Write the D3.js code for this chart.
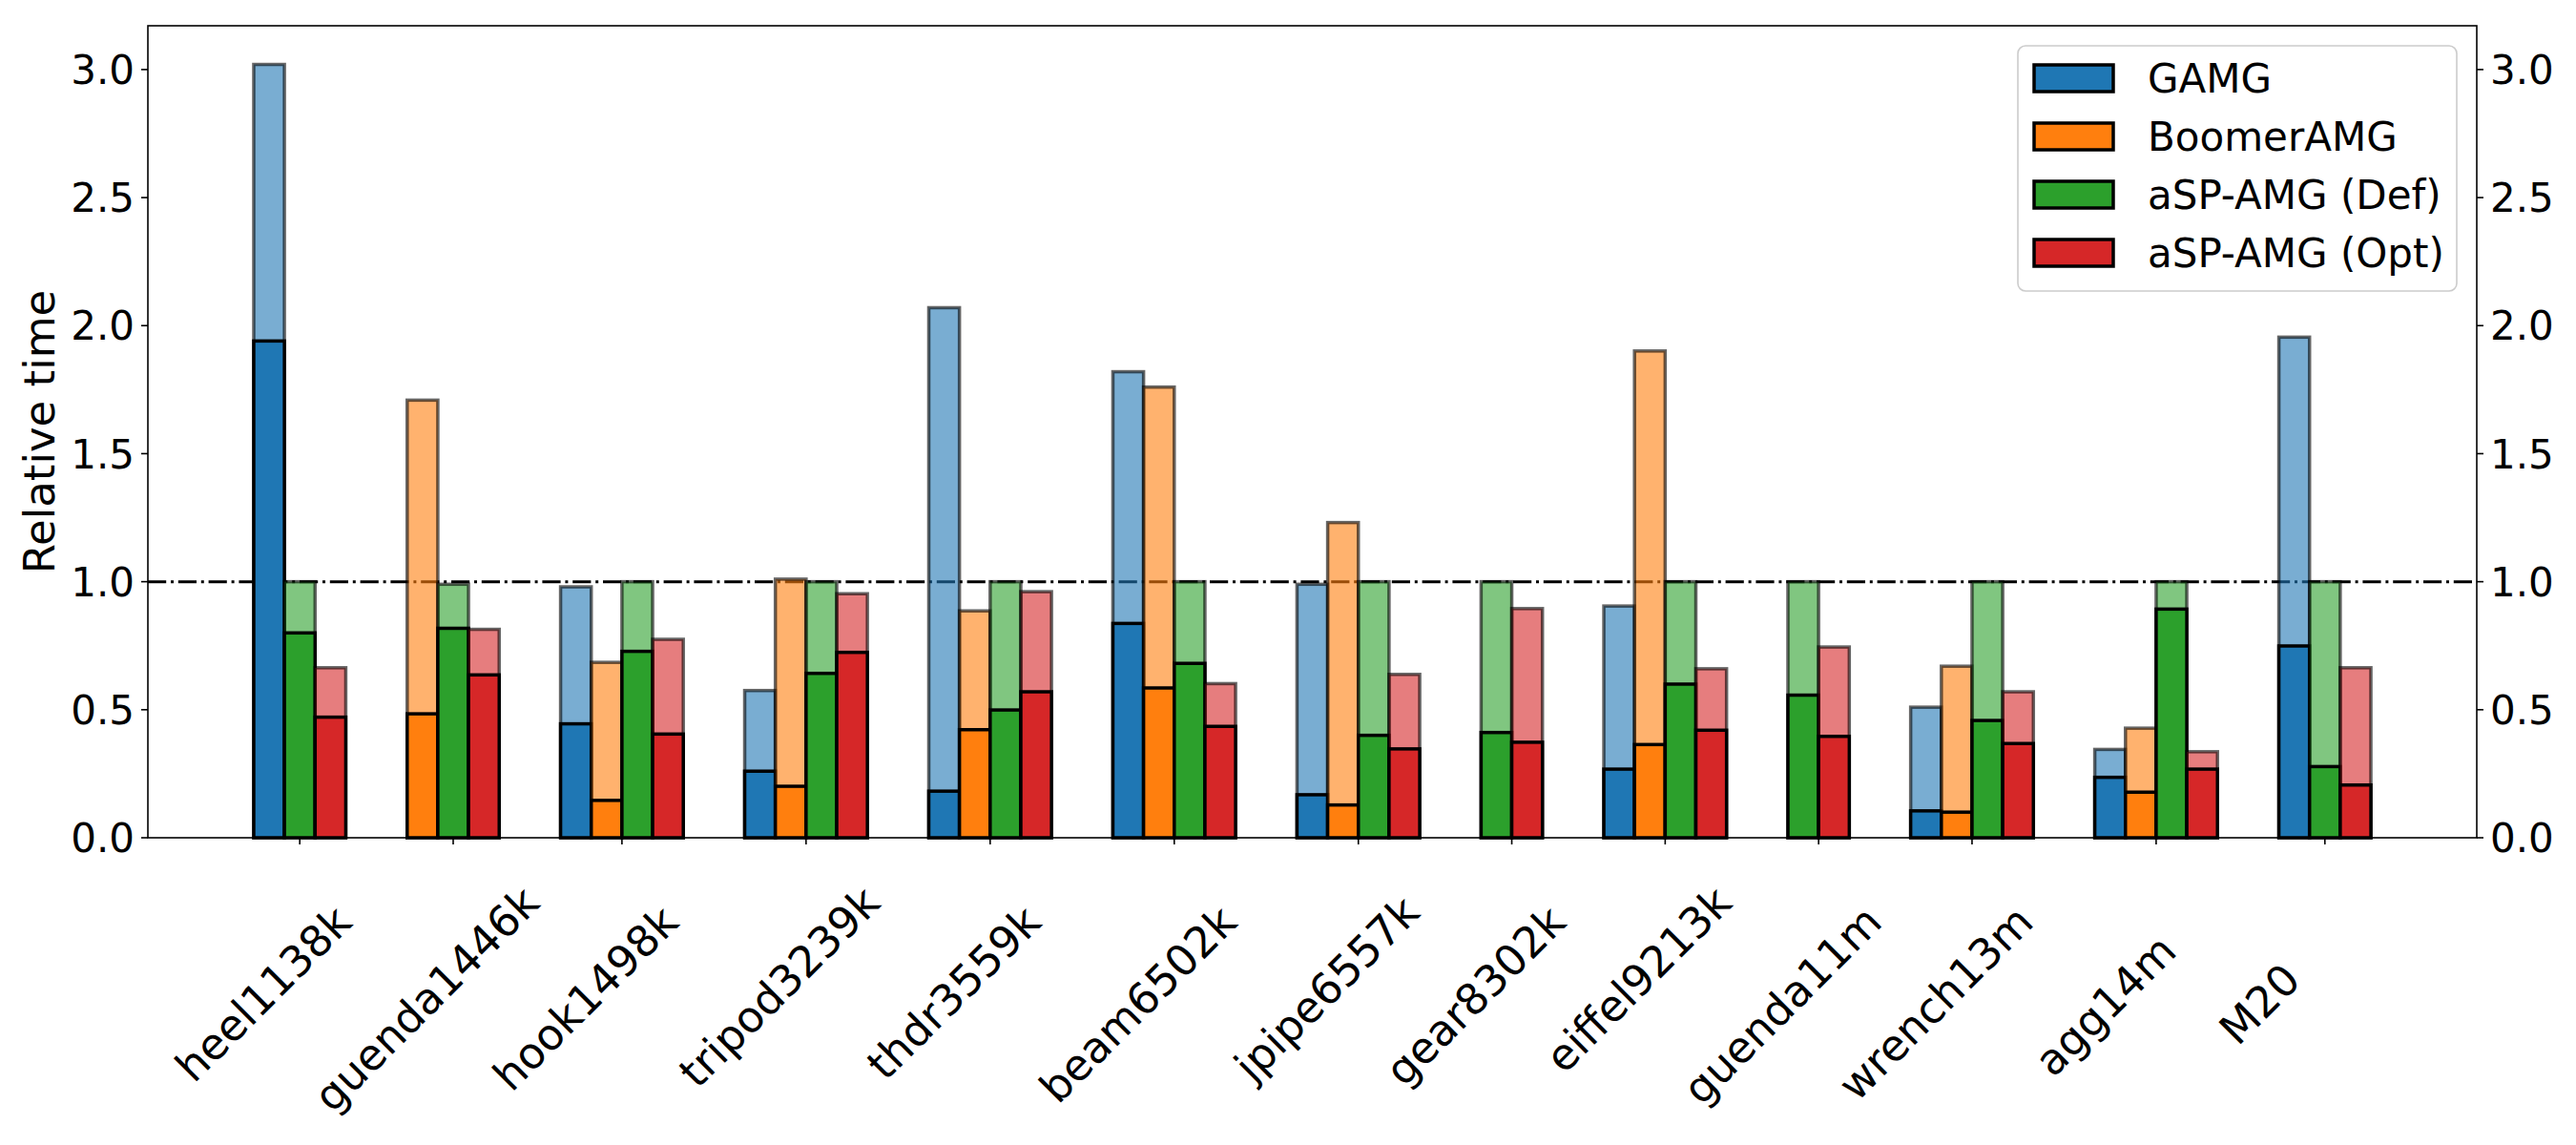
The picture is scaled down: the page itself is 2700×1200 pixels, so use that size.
<!DOCTYPE html>
<html>
<head>
<meta charset="utf-8">
<script src="https://cdn.jsdelivr.net/npm/d3@7/dist/d3.min.js"></script>
<style>
body { margin: 0; background: #ffffff; }
text { font-family: "DejaVu Sans", sans-serif; fill: #000; }
</style>
</head>
<body>
<svg id="chart" width="2700" height="1200"></svg>
<script>
var categories = ['heel1138k', 'guenda1446k', 'hook1498k', 'tripod3239k', 'thdr3559k', 'beam6502k',
    'jpipe6557k', 'gear8302k', 'eiffel9213k', 'guenda11m', 'wrench13m', 'agg14m', 'M20'];
var seriesNames = ['GAMG', 'BoomerAMG', 'aSP-AMG (Def)', 'aSP-AMG (Opt)'];
var seriesColors = ['#1f77b4', '#ff7f0e', '#2ca02c', '#d62728'];

// total time (light bar) and lower part (dark bar), null = not run
var gamgTotal   = [3.02, null, 0.98, 0.575, 2.07, 1.82, 0.99, null, 0.905, null, 0.51, 0.345, 1.955];
var gamgPart    = [1.94, null, 0.445, 0.26, 0.182, 0.837, 0.168, null, 0.268, null, 0.105, 0.236, 0.749];
var boomerTotal = [null, 1.709, 0.685, 1.01, 0.886, 1.76, 1.231, null, 1.901, null, 0.67, 0.428, null];
var boomerPart  = [null, 0.484, 0.146, 0.201, 0.422, 0.585, 0.128, null, 0.364, null, 0.10, 0.178, null];
var defTotal    = [1.0, 0.99, 1.0, 1.0, 1.0, 1.0, 1.0, 1.0, 1.0, 1.0, 1.0, 1.0, 1.0];
var defPart     = [0.80, 0.818, 0.728, 0.642, 0.499, 0.681, 0.40, 0.411, 0.60, 0.557, 0.458, 0.893, 0.278];
var optTotal    = [0.664, 0.814, 0.775, 0.953, 0.961, 0.602, 0.638, 0.895, 0.66, 0.745, 0.57, 0.336, 0.664];
var optPart     = [0.471, 0.636, 0.405, 0.724, 0.57, 0.435, 0.347, 0.373, 0.42, 0.396, 0.368, 0.268, 0.206];

var yTicks = [0, 0.5, 1.0, 1.5, 2.0, 2.5, 3.0];
var refLine = 1.0;

// plot box (note: "top" is taken by window.top, so use own names)
var plotL = 155, plotR = 2596, plotT = 27, plotB = 878;
var fontSize = 42;      // ticks + legend
var labelSize = 45;     // axis label + matrix names
var tickLen = 7, tickPad = 7;

var totals = [gamgTotal, boomerTotal, defTotal, optTotal];
var parts = [gamgPart, boomerPart, defPart, optPart];

// bars sit next to each other, 2 empty slots between matrices
var bars = [];
var groups = [];
var pos = 0;
categories.forEach(function (c, i) {
    var start = pos;
    for (var s = 0; s < totals.length; s++) {
        if (totals[s][i] == null) { continue; }
        bars.push({cat: c, s: s, pos: pos, total: totals[s][i], part: parts[s][i]});
        pos += 1;
    }
    groups.push({name: c, center: (start + pos) / 2});
    pos += 2;
});
var span = pos - 2;

var x = d3.scaleLinear().domain([-0.05 * span, span * 1.05]).range([plotL, plotR]);
var y = d3.scaleLinear().domain([0, d3.max(bars, function (d) { return d.total; }) * 1.05]).range([plotB, plotT]);

var svg = d3.select('#chart');
svg.append('rect').attr('width', 2700).attr('height', 1200).attr('fill', '#fff');

// reference line at 1.0 (under the bars)
svg.append('line')
    .attr('x1', plotL).attr('x2', plotR)
    .attr('y1', y(refLine)).attr('y2', y(refLine))
    .attr('stroke', '#000')
    .attr('stroke-width', 3)
    .attr('stroke-dasharray', '19.2,4.8,3,4.8');

var barG = svg.append('g');
bars.forEach(function (d) {
    barG.append('rect')
        .attr('x', x(d.pos))
        .attr('width', x(d.pos + 1) - x(d.pos))
        .attr('y', y(d.total))
        .attr('height', y(0) - y(d.total))
        .attr('fill', seriesColors[d.s])
        .attr('fill-opacity', 0.6)
        .attr('stroke', '#000')
        .attr('stroke-opacity', 0.6)
        .attr('stroke-width', 3.5);
    barG.append('rect')
        .attr('x', x(d.pos))
        .attr('width', x(d.pos + 1) - x(d.pos))
        .attr('y', y(d.part))
        .attr('height', y(0) - y(d.part))
        .attr('fill', seriesColors[d.s])
        .attr('stroke', '#000')
        .attr('stroke-width', 3.5);
});

// frame
svg.append('rect')
    .attr('x', plotL).attr('y', plotT)
    .attr('width', plotR - plotL).attr('height', plotB - plotT)
    .attr('fill', 'none')
    .attr('stroke', '#000')
    .attr('stroke-width', 1.6);

// y ticks on both sides
yTicks.forEach(function (t) {
    var yy = y(t);
    svg.append('line').attr('x1', plotL - tickLen).attr('x2', plotL).attr('y1', yy).attr('y2', yy)
        .attr('stroke', '#000').attr('stroke-width', 1.6);
    svg.append('line').attr('x1', plotR).attr('x2', plotR + tickLen).attr('y1', yy).attr('y2', yy)
        .attr('stroke', '#000').attr('stroke-width', 1.6);
    svg.append('text')
        .attr('x', plotL - tickLen - tickPad).attr('y', yy).attr('dy', '0.36em')
        .attr('text-anchor', 'end')
        .attr('font-size', fontSize)
        .text(t.toFixed(1));
    svg.append('text')
        .attr('x', plotR + tickLen + tickPad).attr('y', yy).attr('dy', '0.36em')
        .attr('text-anchor', 'start')
        .attr('font-size', fontSize)
        .text(t.toFixed(1));
});

svg.append('text')
    .attr('transform', 'translate(57,' + ((plotT + plotB) / 2) + ') rotate(-90)')
    .attr('text-anchor', 'middle')
    .attr('font-size', labelSize)
    .text('Relative time');

// x ticks, labels rotated 45 and centred as fixed width (space padded) strings
var padChars = 14;
var labelTop = plotB + 16;
groups.forEach(function (g) {
    svg.append('line')
        .attr('x1', x(g.center)).attr('x2', x(g.center))
        .attr('y1', plotB).attr('y2', plotB + tickLen)
        .attr('stroke', '#000').attr('stroke-width', 1.6);
    var t = svg.append('text')
        .attr('font-size', labelSize)
        .attr('text-anchor', 'start')
        .text(g.name);
    var w = t.node().getComputedTextLength() + (padChars - g.name.length) * 0.318 * labelSize;
    var asc = 0.76 * labelSize, desc = 0.24 * labelSize;
    var px = x(g.center) - 0.3536 * (w + desc - asc) - 10;
    var py = labelTop + 0.7071 * (w + asc);
    t.attr('transform', 'translate(' + px + ',' + py + ') rotate(-45)');
});

// legend
var legRight = plotR - 21, legTop = plotT + 21;
var legW = 460, legH = 257;
var leg = svg.append('g').attr('transform', 'translate(' + (legRight - legW) + ',' + legTop + ')');
leg.append('rect')
    .attr('width', legW).attr('height', legH)
    .attr('rx', 8).attr('ry', 8)
    .attr('fill', '#fff').attr('fill-opacity', 0.8)
    .attr('stroke', '#cccccc').attr('stroke-width', 1.6);
seriesNames.forEach(function (n, i) {
    var cy = 34 + i * 61;
    leg.append('rect')
        .attr('x', 17).attr('y', cy - 14)
        .attr('width', 83).attr('height', 28)
        .attr('fill', seriesColors[i])
        .attr('stroke', '#000')
        .attr('stroke-width', 3.5);
    leg.append('text')
        .attr('x', 136).attr('y', cy).attr('dy', '0.36em')
        .attr('font-size', fontSize)
        .text(n);
});
</script>
</body>
</html>
